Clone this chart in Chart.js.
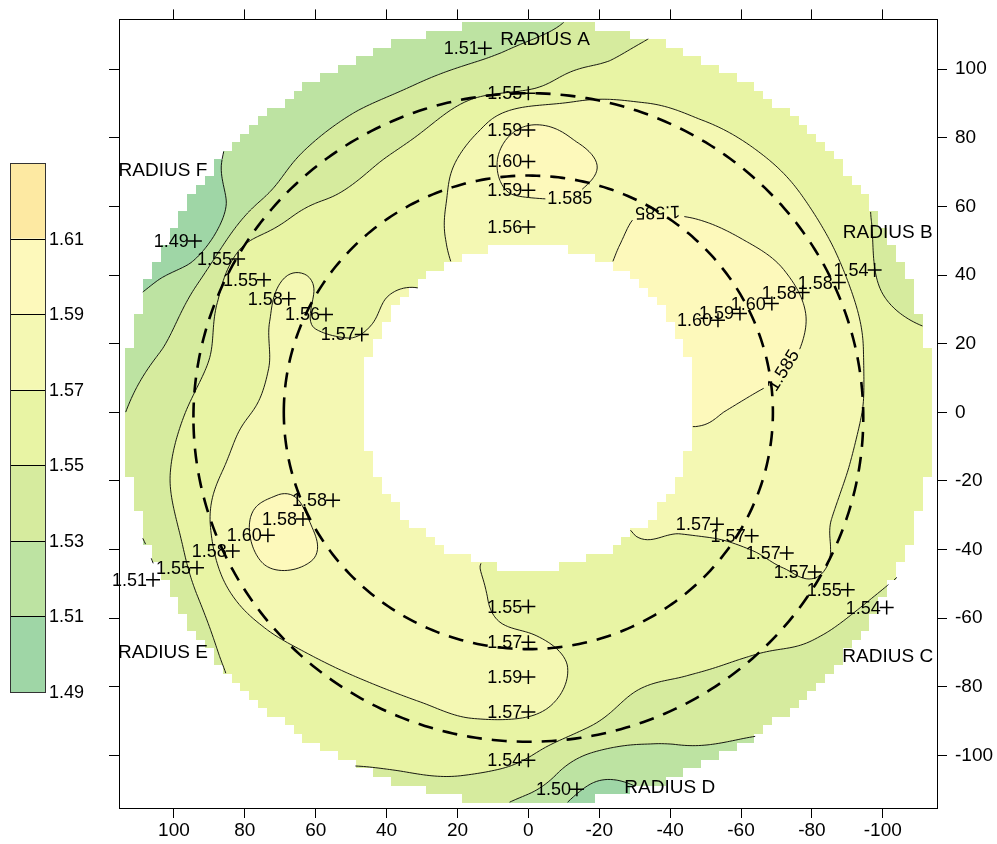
<!DOCTYPE html>
<html>
<head>
<meta charset="utf-8">
<script src="https://cdn.jsdelivr.net/npm/chart.js@4.4.1/dist/chart.umd.min.js"></script>
<style>
  html, body { margin: 0; padding: 0; background: #fff; }
  canvas { display: block; }
</style>
</head>
<body>
<canvas id="map" width="997" height="844"></canvas>
<script>
// ---- measured points along the six radii (x, y position; measured value) ----
const pointX = [
  12.3, 0, 0, 0, 0, 0,                         // radius A
  -97.7, -87.6, -77.4, -68.7, -59.7, -53.5,    // radius B
  -53.2, -63.0, -72.9, -80.8, -90.1, -101.1,   // radius C
  0, 0, 0, 0, 0, -13.7,                        // radius D
  55.1, 63.6, 73.5, 83.4, 93.5, 105.9,         // radius E
  94.1, 81.9, 74.6, 67.6, 57.1, 47.0           // radius F
];
const pointY = [
  106.1, 93.0, 82.3, 73.1, 64.7, 54.0,
  41.5, 37.8, 34.9, 31.7, 28.8, 26.8,
  -32.6, -36.0, -41.0, -46.5, -51.7, -56.9,
  -56.6, -67.0, -77.1, -87.3, -101.4, -109.8,
  -25.6, -31.1, -35.8, -40.4, -45.3, -48.8,
  49.9, 44.7, 38.6, 33.1, 28.5, 22.7
];
const pointValue = [
  1.51, 1.55, 1.59, 1.60, 1.59, 1.56,
  1.54, 1.58, 1.58, 1.60, 1.59, 1.60,
  1.57, 1.57, 1.57, 1.57, 1.55, 1.54,
  1.55, 1.57, 1.59, 1.57, 1.54, 1.50,
  1.58, 1.58, 1.60, 1.58, 1.55, 1.51,
  1.49, 1.55, 1.55, 1.58, 1.56, 1.57
];

// ---- surface: values on a polar grid (angle counter-clockwise from the right side of the plot) ----
const fieldAngles = [0,10,20,30,40,50,60,70,80,90,100,110,120,130,140,150,160,170,
                     180,190,200,210,220,230,240,250,260,270,280,290,300,310,320,330,340,350];
const fieldRadii = [47, 55, 65, 75, 85, 95, 105, 117];
const fieldGrid = [
  [1.588, 1.585, 1.580, 1.576, 1.570, 1.5645, 1.558, 1.552],
  [1.595, 1.594, 1.590, 1.585, 1.575, 1.566, 1.556, 1.548],
  [1.596, 1.598, 1.598, 1.594, 1.583, 1.571, 1.546, 1.530],
  [1.594, 1.597, 1.598, 1.593, 1.583, 1.571, 1.554, 1.540],
  [1.592, 1.595, 1.594, 1.588, 1.579, 1.569, 1.561, 1.553],
  [1.590, 1.592, 1.590, 1.584, 1.576, 1.568, 1.562, 1.555],
  [1.586, 1.587, 1.586, 1.580, 1.573, 1.567, 1.561, 1.556],
  [1.575, 1.577, 1.581, 1.582, 1.576, 1.566, 1.556, 1.547],
  [1.572, 1.578, 1.586, 1.589, 1.578, 1.560, 1.541, 1.532],
  [1.570, 1.572, 1.589, 1.600, 1.581, 1.542, 1.529, 1.515],
  [1.574, 1.577, 1.580, 1.576, 1.561, 1.540, 1.521, 1.507],
  [1.571, 1.570, 1.566, 1.560, 1.548, 1.533, 1.519, 1.510],
  [1.563, 1.561, 1.558, 1.553, 1.544, 1.531, 1.520, 1.512],
  [1.565, 1.562, 1.558, 1.553, 1.543, 1.530, 1.518, 1.508],
  [1.568, 1.563, 1.558, 1.553, 1.550, 1.529, 1.514, 1.502],
  [1.568, 1.562, 1.561, 1.568, 1.557, 1.543, 1.495, 1.485],
  [1.570, 1.567, 1.566, 1.567, 1.556, 1.542, 1.515, 1.500],
  [1.578, 1.575, 1.570, 1.5645, 1.553, 1.540, 1.525, 1.512],
  [1.580, 1.579, 1.575, 1.567, 1.560, 1.547, 1.536, 1.522],
  [1.582, 1.582, 1.580, 1.575, 1.567, 1.554, 1.542, 1.528],
  [1.582, 1.583, 1.583, 1.586, 1.583, 1.566, 1.544, 1.522],
  [1.578, 1.579, 1.580, 1.590, 1.587, 1.573, 1.551, 1.525],
  [1.578, 1.579, 1.580, 1.580, 1.576, 1.5675, 1.556, 1.541],
  [1.577, 1.578, 1.579, 1.578, 1.573, 1.5635, 1.556, 1.548],
  [1.574, 1.576, 1.577, 1.576, 1.570, 1.561, 1.553, 1.546],
  [1.567, 1.572, 1.574, 1.574, 1.569, 1.560, 1.551, 1.540],
  [1.560, 1.563, 1.568, 1.572, 1.570, 1.560, 1.548, 1.534],
  [1.548, 1.554, 1.566, 1.578, 1.571, 1.553, 1.538, 1.515],
  [1.550, 1.553, 1.559, 1.563, 1.557, 1.542, 1.513, 1.495],
  [1.553, 1.555, 1.558, 1.557, 1.547, 1.536, 1.522, 1.510],
  [1.558, 1.558, 1.558, 1.556, 1.548, 1.540, 1.532, 1.519],
  [1.565, 1.562, 1.560, 1.557, 1.552, 1.544, 1.537, 1.528],
  [1.570, 1.565, 1.561, 1.559, 1.556, 1.551, 1.544, 1.533],
  [1.578, 1.574, 1.569, 1.567, 1.567, 1.565, 1.550, 1.541],
  [1.583, 1.580, 1.576, 1.573, 1.569, 1.562, 1.554, 1.546],
  [1.583, 1.582, 1.578, 1.574, 1.569, 1.563, 1.556, 1.549]
];

// ---- levels, colours, legend ----
const fillBreaks = [1.505, 1.525, 1.545, 1.565, 1.585, 1.605];
const contourLevels = [1.505, 1.525, 1.545, 1.565, 1.585];
const bandColors = ['#9fd6a6', '#bde3a2', '#d6eb9e', '#e8f4a4', '#f4f8b3', '#fdf9bb', '#fde9a2'];
const legendTicks = ['1.61', '1.59', '1.57', '1.55', '1.53', '1.51', '1.49'];

// ---- annotations ----
const radiusNames = ['RADIUS A', 'RADIUS B', 'RADIUS C', 'RADIUS D', 'RADIUS E', 'RADIUS F'];
const radiusNameX = [-4.7, -101.4, -101.4, -39.9, 103.1, 103.1];
const radiusNameY = [108.7, 52.2, -71.1, -109.3, -70.2, 70.5];
const contourLabelText = ['1.585', '1.585', '1.585'];
const contourLabelX = [-11.7, -36.5, -71.8];
const contourLabelY = [62.5, 58.2, 12.3];
const contourLabelAngle = [0, 178, -58];
const ringRadius = [69, 94.5];
const ringCenterY = [0, -1.5];

// ---- geometry of the measured ring ----
const R_OUT = 114, HOLE_RX = 47, HOLE_RY = 47.5, HOLE_Y = 1.7, CELL = 2.5;
const X_MIN = -115.3, X_MAX = 115.5, Y_MIN = -115.3, Y_MAX = 114.5;
const FONT = '"Liberation Sans", Arial, Helvetica, sans-serif';

// the surface is filled cell by cell on a coarse grid, which gives the stepped rims
function inAnnulus(x, y) {
  const cx = Math.round(x / CELL) * CELL;
  const cy = Math.round(y / CELL) * CELL;
  if (Math.hypot(cx, cy) > R_OUT) return false;
  const ex = cx / HOLE_RX, ey = (cy - HOLE_Y) / HOLE_RY;
  return ex * ex + ey * ey >= 1;
}

function cr(p0, p1, p2, p3, t) {
  return 0.5 * (2 * p1 + (-p0 + p2) * t + (2 * p0 - 5 * p1 + 4 * p2 - p3) * t * t +
    (-p0 + 3 * p1 - 3 * p2 + p3) * t * t * t);
}

// smooth surface value from the polar grid (Catmull-Rom in angle and radius)
function field(x, y) {
  const r = Math.hypot(x, y);
  let phi = Math.atan2(y, -x) * 180 / Math.PI;
  if (phi < 0) phi += 360;
  const n = fieldAngles.length, step = 360 / n;
  const t = phi / step, i1 = Math.floor(t), ft = t - i1;
  const m = fieldRadii.length;
  let ri;
  if (r <= fieldRadii[0]) ri = 0;
  else if (r >= fieldRadii[m - 1]) ri = m - 1;
  else {
    let k = 0;
    while (k < m - 2 && r >= fieldRadii[k + 1]) k++;
    ri = k + (r - fieldRadii[k]) / (fieldRadii[k + 1] - fieldRadii[k]);
  }
  const k1 = Math.min(Math.floor(ri), m - 2);
  const fr = ri - k1;
  const cl = k => Math.max(0, Math.min(m - 1, k));
  const c = [];
  for (let a = -1; a <= 2; a++) {
    const row = fieldGrid[((i1 + a) % n + n) % n];
    c.push(cr(row[cl(k1 - 1)], row[k1], row[k1 + 1], row[cl(k1 + 2)], fr));
  }
  return cr(c[0], c[1], c[2], c[3], ft);
}

function bandIndex(v) {
  let k = 0;
  while (k < fillBreaks.length && v >= fillBreaks[k]) k++;
  return k;
}

function hexToRgb(h) {
  const n = parseInt(h.slice(1), 16);
  return [(n >> 16) & 255, (n >> 8) & 255, n & 255];
}

const surfacePlugin = {
  id: 'surface',
  beforeDatasetsDraw(chart) {
    const { ctx, chartArea: a } = chart;
    const xs = chart.scales.x, ys = chart.scales.y;

    // filled bands
    const L = Math.round(a.left), T = Math.round(a.top);
    const W = Math.round(a.right) - L, H = Math.round(a.bottom) - T;
    const off = document.createElement('canvas');
    off.width = W; off.height = H;
    const octx = off.getContext('2d');
    const img = octx.createImageData(W, H);
    const d = img.data;
    const rgb = bandColors.map(hexToRgb);
    const colX = new Float64Array(W);
    for (let i = 0; i < W; i++) colX[i] = xs.getValueForPixel(L + i + 0.5);
    for (let j = 0; j < H; j++) {
      const vy = ys.getValueForPixel(T + j + 0.5);
      for (let i = 0; i < W; i++) {
        const vx = colX[i];
        if (!inAnnulus(vx, vy)) continue;
        const c = rgb[bandIndex(field(vx, vy))];
        const k = (j * W + i) * 4;
        d[k] = c[0]; d[k + 1] = c[1]; d[k + 2] = c[2]; d[k + 3] = 255;
      }
    }
    octx.putImageData(img, 0, 0);
    ctx.drawImage(off, L, T);

    ctx.save();
    ctx.beginPath();
    ctx.rect(a.left, a.top, a.right - a.left, a.bottom - a.top);
    ctx.clip();

    // label boxes that break the contour lines
    ctx.font = '18px ' + FONT;
    const boxes = contourLabelText.map((txt, i) => ({
      px: xs.getPixelForValue(contourLabelX[i]),
      py: ys.getPixelForValue(contourLabelY[i]),
      ang: contourLabelAngle[i] * Math.PI / 180,
      hw: ctx.measureText(txt).width / 2 + 3,
      hh: 9
    }));
    const blocked = (px, py) => boxes.some(b => {
      const dx = px - b.px, dy = py - b.py;
      const c = Math.cos(b.ang), s = Math.sin(b.ang);
      return Math.abs(dx * c + dy * s) < b.hw && Math.abs(-dx * s + dy * c) < b.hh;
    });

    // contour lines (marching squares)
    const STEP = 0.8, ORG = -116, N = Math.round(232 / STEP) + 1;
    const g = new Float64Array(N * N);
    for (let j = 0; j < N; j++)
      for (let i = 0; i < N; i++) g[j * N + i] = field(ORG + i * STEP, ORG + j * STEP);
    ctx.strokeStyle = '#000';
    ctx.lineWidth = 0.9;
    ctx.beginPath();
    for (const lev of contourLevels) {
      for (let j = 0; j < N - 1; j++) {
        const y0 = ORG + j * STEP, y1 = y0 + STEP;
        for (let i = 0; i < N - 1; i++) {
          const x0 = ORG + i * STEP, x1 = x0 + STEP;
          if (!inAnnulus(x0 + STEP / 2, y0 + STEP / 2)) continue;
          const v0 = g[j * N + i], v1 = g[j * N + i + 1], v2 = g[(j + 1) * N + i + 1], v3 = g[(j + 1) * N + i];
          const pts = [];
          const edge = (ax, ay, av, bx, by, bv) => {
            if ((av >= lev) !== (bv >= lev)) {
              const t = (lev - av) / (bv - av);
              pts.push([ax + (bx - ax) * t, ay + (by - ay) * t]);
            }
          };
          edge(x0, y0, v0, x1, y0, v1);
          edge(x1, y0, v1, x1, y1, v2);
          edge(x1, y1, v2, x0, y1, v3);
          edge(x0, y1, v3, x0, y0, v0);
          for (let p = 0; p + 1 < pts.length; p += 2) {
            const ax = xs.getPixelForValue(pts[p][0]), ay = ys.getPixelForValue(pts[p][1]);
            const bx = xs.getPixelForValue(pts[p + 1][0]), by = ys.getPixelForValue(pts[p + 1][1]);
            if (blocked((ax + bx) / 2, (ay + by) / 2)) continue;
            ctx.moveTo(ax, ay);
            ctx.lineTo(bx, by);
          }
        }
      }
    }
    ctx.stroke();

    // dashed reference rings
    ctx.setLineDash([15, 10]);
    ctx.lineWidth = 2.6;
    ringRadius.forEach((rr, k) => {
      ctx.beginPath();
      for (let deg = 0; deg <= 360; deg += 1) {
        const t = deg * Math.PI / 180;
        const px = xs.getPixelForValue(rr * Math.cos(t));
        const py = ys.getPixelForValue(ringCenterY[k] + rr * Math.sin(t));
        if (deg === 0) ctx.moveTo(px, py); else ctx.lineTo(px, py);
      }
      ctx.stroke();
    });
    ctx.setLineDash([]);

    // contour labels
    ctx.fillStyle = '#000';
    ctx.textAlign = 'center';
    ctx.textBaseline = 'middle';
    boxes.forEach((b, i) => {
      ctx.save();
      ctx.translate(b.px, b.py);
      ctx.rotate(b.ang);
      ctx.fillText(contourLabelText[i], 0, 1);
      ctx.restore();
    });
    ctx.restore();
  },
  afterDatasetsDraw(chart) {
    const { ctx } = chart;
    const xs = chart.scales.x, ys = chart.scales.y;
    ctx.save();
    ctx.fillStyle = '#000';
    ctx.font = '18px ' + FONT;
    ctx.textAlign = 'right';
    ctx.textBaseline = 'middle';
    pointValue.forEach((v, i) => {
      ctx.fillText(v.toFixed(2), xs.getPixelForValue(pointX[i]) - 6, ys.getPixelForValue(pointY[i]) + 1);
    });
    ctx.font = '19px ' + FONT;
    ctx.textAlign = 'center';
    radiusNames.forEach((nm, i) => {
      ctx.fillText(nm, xs.getPixelForValue(radiusNameX[i]), ys.getPixelForValue(radiusNameY[i]));
    });
    ctx.restore();
  },
  afterDraw(chart) {
    // colour key
    const { ctx } = chart;
    const bx = 10, bw = 35, top = 163, bottom = 692;
    const seg = (bottom - top) / bandColors.length;
    ctx.save();
    const cols = bandColors.slice().reverse();
    cols.forEach((c, k) => {
      ctx.fillStyle = c;
      ctx.fillRect(bx, top + k * seg, bw, seg);
    });
    ctx.strokeStyle = '#000';
    ctx.lineWidth = 1;
    for (let k = 1; k < cols.length; k++) {
      const yy = Math.round(top + k * seg) + 0.5;
      ctx.beginPath(); ctx.moveTo(bx, yy); ctx.lineTo(bx + bw, yy); ctx.stroke();
    }
    ctx.strokeStyle = '#333';
    ctx.strokeRect(bx + 0.5, top + 0.5, bw, bottom - top);
    ctx.fillStyle = '#000';
    ctx.font = '18px ' + FONT;
    ctx.textAlign = 'left';
    ctx.textBaseline = 'middle';
    legendTicks.forEach((t, k) => {
      ctx.fillText(t, bx + bw + 4, top + (k + 1) * seg + 1);
    });
    ctx.restore();
  }
};

const tickFont = { size: 19, family: FONT };
const edgeGrid = { display: true, drawOnChartArea: false, drawTicks: true, tickLength: 10, color: '#000', lineWidth: 1 };
const edgeBorder = { display: true, color: '#000', width: 1 };

new Chart(document.getElementById('map'), {
  type: 'scatter',
  data: {
    datasets: [{
      data: pointX.map((x, i) => ({ x, y: pointY[i] })),
      pointStyle: 'cross',
      pointRadius: 7,
      borderColor: '#000',
      backgroundColor: '#000',
      borderWidth: 1.5,
      xAxisID: 'x',
      yAxisID: 'y'
    }]
  },
  options: {
    responsive: false,
    animation: false,
    devicePixelRatio: 1,
    events: [],
    layout: { padding: 0 },
    plugins: { legend: { display: false }, tooltip: { enabled: false } },
    scales: {
      x: {
        type: 'linear', axis: 'x', position: 'bottom', min: X_MIN, max: X_MAX, reverse: true,
        afterFit(s) { s.height = 36; },
        ticks: { stepSize: 20, includeBounds: false, color: '#000', font: tickFont, padding: 1,
                 maxRotation: 0, autoSkip: false, callback: v => String(v) },
        grid: edgeGrid, border: edgeBorder
      },
      x2: {
        type: 'linear', axis: 'x', position: 'top', min: X_MIN, max: X_MAX, reverse: true,
        afterFit(s) { s.height = 14; },
        ticks: { stepSize: 20, includeBounds: false, display: false },
        grid: edgeGrid, border: edgeBorder
      },
      y: {
        type: 'linear', axis: 'y', position: 'right', min: Y_MIN, max: Y_MAX,
        afterFit(s) { s.width = 60; },
        ticks: { stepSize: 20, includeBounds: false, color: '#000', font: tickFont, padding: 8,
                 autoSkip: false, callback: v => String(v) },
        grid: edgeGrid, border: edgeBorder
      },
      y2: {
        type: 'linear', axis: 'y', position: 'left', min: Y_MIN, max: Y_MAX,
        afterFit(s) { s.width = 119; },
        ticks: { stepSize: 20, includeBounds: false, display: false },
        grid: edgeGrid, border: edgeBorder
      }
    }
  },
  plugins: [surfacePlugin]
});
</script>
</body>
</html>
